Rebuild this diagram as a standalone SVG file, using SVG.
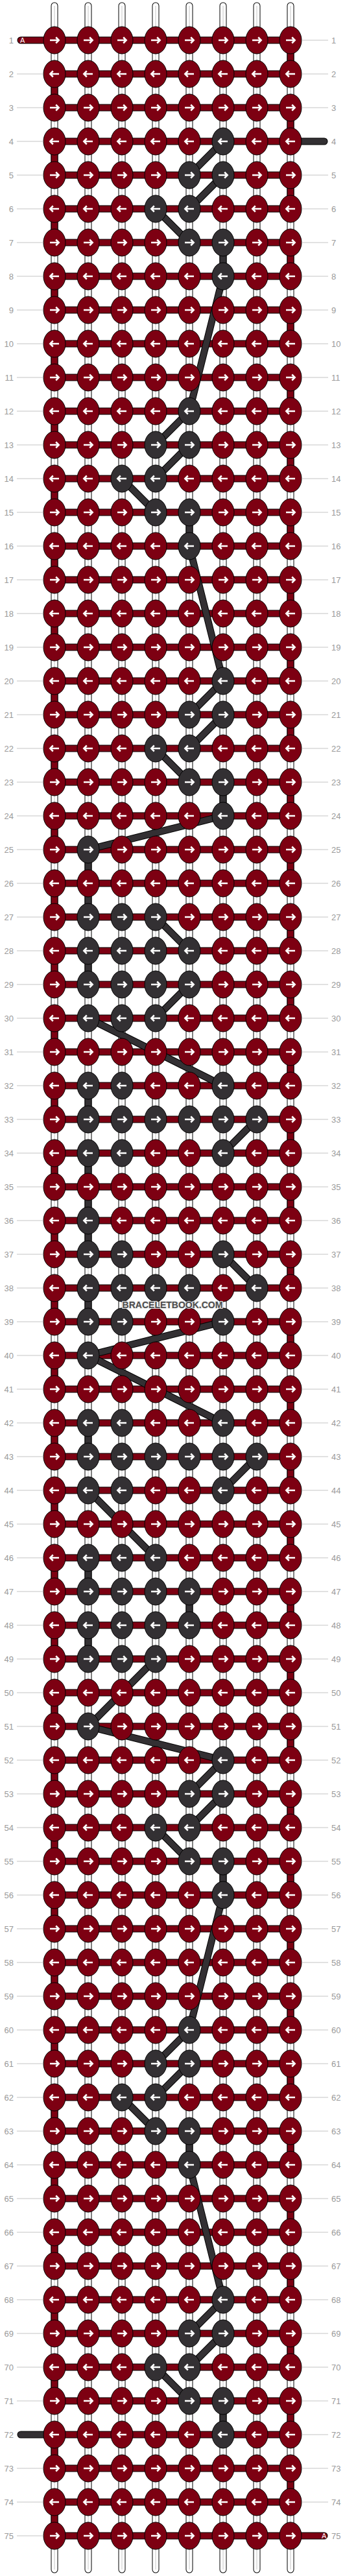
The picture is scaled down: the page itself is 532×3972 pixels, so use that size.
<svg xmlns="http://www.w3.org/2000/svg" xmlns:xlink="http://www.w3.org/1999/xlink" width="532" height="3972" viewBox="0 0 532 3972">
<style>
.lab{font-family:"Liberation Sans",Arial,sans-serif;font-size:13px;fill:#9a9a9a}
.labr{text-anchor:start}
.labl{text-anchor:end}
.arr{fill:none;stroke:#fff;stroke-width:2.5;stroke-linejoin:miter}
.kr{fill:#7d0012;stroke:#000;stroke-width:1}
.kd{fill:#333033;stroke:#000;stroke-width:1}
.o12{fill:none;stroke:#000;stroke-width:11}
.rd{fill:none;stroke:#7d0012;stroke-width:9}
.dk{fill:none;stroke:#333033;stroke-width:9}
.wt{fill:none;stroke:#fff;stroke-width:9}
.cap{stroke-linecap:round}
.core{fill:none;stroke:#c6c6c6;stroke-width:1}
.tick{fill:none;stroke:#c4c4c4;stroke-width:1}
.endt{font-family:"Liberation Sans",Arial,sans-serif;font-size:11px;fill:#fff}
.wm{font-family:"Liberation Sans",Arial,sans-serif;font-size:14px;font-weight:bold;fill:#4d4d4d;stroke:#e8e8e8;stroke-width:2;paint-order:stroke;text-anchor:middle}
</style>
<defs>
<path id="ar" d="M-7,0H6M2.2,-4.5L6.7,0L2.2,4.5" class="arr"/>
<path id="al" d="M7,0H-6M-2.2,-4.5L-6.7,0L-2.2,4.5" class="arr"/>
<g id="a"><ellipse rx="17" ry="21" class="kr"/><use xlink:href="#ar" href="#ar"/></g>
<g id="b"><ellipse rx="17" ry="21" class="kr"/><use xlink:href="#al" href="#al"/></g>
<g id="c"><ellipse rx="17" ry="21" class="kd"/><use xlink:href="#ar" href="#ar"/></g>
<g id="d"><ellipse rx="17" ry="21" class="kd"/><use xlink:href="#al" href="#al"/></g>
<path id="vstr" d="M84,9V3962M136,9V3962M188,9V3962M240,9V3962M292,9V3962M344,9V3962M396,9V3962M448,9V3962"/>
<path id="hbar" d="M32,62H448M84,114H448M84,166H448M84,218H448M84,270H448M84,322H448M84,374H448M84,426H448M84,478H448M84,530H448M84,582H448M84,634H448M84,686H448M84,738H448M84,790H448M84,842H448M84,894H448M84,946H448M84,998H448M84,1050H448M84,1102H448M84,1154H448M84,1206H448M84,1258H448M84,1310H448M84,1362H448M84,1414H448M84,1466H448M84,1518H448M84,1570H448M84,1622H448M84,1674H448M84,1726H448M84,1778H448M84,1830H448M84,1882H448M84,1934H448M84,1986H448M84,2038H448M84,2090H448M84,2142H448M84,2194H448M84,2246H448M84,2298H448M84,2350H448M84,2402H448M84,2454H448M84,2506H448M84,2558H448M84,2610H448M84,2662H448M84,2714H448M84,2766H448M84,2818H448M84,2870H448M84,2922H448M84,2974H448M84,3026H448M84,3078H448M84,3130H448M84,3182H448M84,3234H448M84,3286H448M84,3338H448M84,3390H448M84,3442H448M84,3494H448M84,3546H448M84,3598H448M84,3650H448M84,3702H448M84,3754H448M84,3806H448M84,3858H448M84,3910H500"/>
<path id="dbar" d="M448,218H500M32,3754H84"/>
<path id="redge" d="M448,62V3858M84,114V3910"/>
<path id="dvert" d="M344,374V426M344,1206V1258M344,2870V2922M344,3702V3754M292,790V842M292,2454V2506M292,3286V3338M136,1310V1414M136,1466V1518M136,1674V1726M136,1778V1934M136,1986V2038M136,2194V2246M136,2402V2454M136,2506V2558"/>
<path id="diag" d="M344,218L292,270M344,270L292,322M240,322L292,374M344,426L292,634M292,634L240,686M292,686L240,738M188,738L240,790M292,842L344,1050M344,1050L292,1102M344,1102L292,1154M240,1154L292,1206M344,1258L136,1310M240,1414L292,1466M292,1518L240,1570M136,1570L344,1674M396,1726L344,1778M344,1934L396,1986M344,2038L136,2090M136,2090L344,2194M396,2246L344,2298M136,2298L240,2402M240,2558L136,2662M136,2662L344,2714M344,2714L292,2766M344,2766L292,2818M240,2818L292,2870M344,2922L292,3130M292,3130L240,3182M292,3182L240,3234M188,3234L240,3286M292,3338L344,3546M344,3546L292,3598M344,3598L292,3650M240,3650L292,3702"/>
</defs>
<rect width="532" height="3972" fill="#fff"/>
<g id="strings">
<use xlink:href="#vstr" href="#vstr" class="o12 cap"/>
<use xlink:href="#vstr" href="#vstr" class="wt cap"/>
<use xlink:href="#vstr" href="#vstr" class="core"/>
<use xlink:href="#redge" href="#redge" class="o12" stroke-dasharray="52 52"/>
<use xlink:href="#redge" href="#redge" class="rd" stroke-dasharray="52 52"/>
<use xlink:href="#dvert" href="#dvert" class="o12"/>
<use xlink:href="#dvert" href="#dvert" class="dk"/>
<use xlink:href="#hbar" href="#hbar" class="o12 cap"/>
<use xlink:href="#hbar" href="#hbar" class="rd cap"/>
<use xlink:href="#dbar" href="#dbar" class="o12 cap"/>
<use xlink:href="#dbar" href="#dbar" class="dk cap"/>
</g>
<g id="connectors">
<use xlink:href="#diag" href="#diag" class="o12"/>
<use xlink:href="#diag" href="#diag" class="dk"/>
</g>
<g id="knots">
<g id="row1" transform="translate(0,62)"><use id="k1-1" href="#a" x="84"/><use id="k1-2" href="#a" x="136"/><use id="k1-3" href="#a" x="188"/><use id="k1-4" href="#a" x="240"/><use id="k1-5" href="#a" x="292"/><use id="k1-6" href="#a" x="344"/><use id="k1-7" href="#a" x="396"/><use id="k1-8" href="#a" x="448"/></g>
<g id="row2" transform="translate(0,114)"><use id="k2-1" href="#b" x="84"/><use id="k2-2" href="#b" x="136"/><use id="k2-3" href="#b" x="188"/><use id="k2-4" href="#b" x="240"/><use id="k2-5" href="#b" x="292"/><use id="k2-6" href="#b" x="344"/><use id="k2-7" href="#b" x="396"/><use id="k2-8" href="#b" x="448"/></g>
<g id="row3" transform="translate(0,166)"><use id="k3-1" href="#a" x="84"/><use id="k3-2" href="#a" x="136"/><use id="k3-3" href="#a" x="188"/><use id="k3-4" href="#a" x="240"/><use id="k3-5" href="#a" x="292"/><use id="k3-6" href="#a" x="344"/><use id="k3-7" href="#a" x="396"/><use id="k3-8" href="#a" x="448"/></g>
<g id="row4" transform="translate(0,218)"><use id="k4-1" href="#b" x="84"/><use id="k4-2" href="#b" x="136"/><use id="k4-3" href="#b" x="188"/><use id="k4-4" href="#b" x="240"/><use id="k4-5" href="#b" x="292"/><use id="k4-6" href="#d" x="344"/><use id="k4-7" href="#b" x="396"/><use id="k4-8" href="#b" x="448"/></g>
<g id="row5" transform="translate(0,270)"><use id="k5-1" href="#a" x="84"/><use id="k5-2" href="#a" x="136"/><use id="k5-3" href="#a" x="188"/><use id="k5-4" href="#a" x="240"/><use id="k5-5" href="#c" x="292"/><use id="k5-6" href="#c" x="344"/><use id="k5-7" href="#a" x="396"/><use id="k5-8" href="#a" x="448"/></g>
<g id="row6" transform="translate(0,322)"><use id="k6-1" href="#b" x="84"/><use id="k6-2" href="#b" x="136"/><use id="k6-3" href="#b" x="188"/><use id="k6-4" href="#d" x="240"/><use id="k6-5" href="#d" x="292"/><use id="k6-6" href="#b" x="344"/><use id="k6-7" href="#b" x="396"/><use id="k6-8" href="#b" x="448"/></g>
<g id="row7" transform="translate(0,374)"><use id="k7-1" href="#a" x="84"/><use id="k7-2" href="#a" x="136"/><use id="k7-3" href="#a" x="188"/><use id="k7-4" href="#a" x="240"/><use id="k7-5" href="#c" x="292"/><use id="k7-6" href="#c" x="344"/><use id="k7-7" href="#a" x="396"/><use id="k7-8" href="#a" x="448"/></g>
<g id="row8" transform="translate(0,426)"><use id="k8-1" href="#b" x="84"/><use id="k8-2" href="#b" x="136"/><use id="k8-3" href="#b" x="188"/><use id="k8-4" href="#b" x="240"/><use id="k8-5" href="#b" x="292"/><use id="k8-6" href="#d" x="344"/><use id="k8-7" href="#b" x="396"/><use id="k8-8" href="#b" x="448"/></g>
<g id="row9" transform="translate(0,478)"><use id="k9-1" href="#a" x="84"/><use id="k9-2" href="#a" x="136"/><use id="k9-3" href="#a" x="188"/><use id="k9-4" href="#a" x="240"/><use id="k9-5" href="#a" x="292"/><use id="k9-6" href="#a" x="344"/><use id="k9-7" href="#a" x="396"/><use id="k9-8" href="#a" x="448"/></g>
<g id="row10" transform="translate(0,530)"><use id="k10-1" href="#b" x="84"/><use id="k10-2" href="#b" x="136"/><use id="k10-3" href="#b" x="188"/><use id="k10-4" href="#b" x="240"/><use id="k10-5" href="#b" x="292"/><use id="k10-6" href="#b" x="344"/><use id="k10-7" href="#b" x="396"/><use id="k10-8" href="#b" x="448"/></g>
<g id="row11" transform="translate(0,582)"><use id="k11-1" href="#a" x="84"/><use id="k11-2" href="#a" x="136"/><use id="k11-3" href="#a" x="188"/><use id="k11-4" href="#a" x="240"/><use id="k11-5" href="#a" x="292"/><use id="k11-6" href="#a" x="344"/><use id="k11-7" href="#a" x="396"/><use id="k11-8" href="#a" x="448"/></g>
<g id="row12" transform="translate(0,634)"><use id="k12-1" href="#b" x="84"/><use id="k12-2" href="#b" x="136"/><use id="k12-3" href="#b" x="188"/><use id="k12-4" href="#b" x="240"/><use id="k12-5" href="#d" x="292"/><use id="k12-6" href="#b" x="344"/><use id="k12-7" href="#b" x="396"/><use id="k12-8" href="#b" x="448"/></g>
<g id="row13" transform="translate(0,686)"><use id="k13-1" href="#a" x="84"/><use id="k13-2" href="#a" x="136"/><use id="k13-3" href="#a" x="188"/><use id="k13-4" href="#c" x="240"/><use id="k13-5" href="#c" x="292"/><use id="k13-6" href="#a" x="344"/><use id="k13-7" href="#a" x="396"/><use id="k13-8" href="#a" x="448"/></g>
<g id="row14" transform="translate(0,738)"><use id="k14-1" href="#b" x="84"/><use id="k14-2" href="#b" x="136"/><use id="k14-3" href="#d" x="188"/><use id="k14-4" href="#d" x="240"/><use id="k14-5" href="#b" x="292"/><use id="k14-6" href="#b" x="344"/><use id="k14-7" href="#b" x="396"/><use id="k14-8" href="#b" x="448"/></g>
<g id="row15" transform="translate(0,790)"><use id="k15-1" href="#a" x="84"/><use id="k15-2" href="#a" x="136"/><use id="k15-3" href="#a" x="188"/><use id="k15-4" href="#c" x="240"/><use id="k15-5" href="#c" x="292"/><use id="k15-6" href="#a" x="344"/><use id="k15-7" href="#a" x="396"/><use id="k15-8" href="#a" x="448"/></g>
<g id="row16" transform="translate(0,842)"><use id="k16-1" href="#b" x="84"/><use id="k16-2" href="#b" x="136"/><use id="k16-3" href="#b" x="188"/><use id="k16-4" href="#b" x="240"/><use id="k16-5" href="#d" x="292"/><use id="k16-6" href="#b" x="344"/><use id="k16-7" href="#b" x="396"/><use id="k16-8" href="#b" x="448"/></g>
<g id="row17" transform="translate(0,894)"><use id="k17-1" href="#a" x="84"/><use id="k17-2" href="#a" x="136"/><use id="k17-3" href="#a" x="188"/><use id="k17-4" href="#a" x="240"/><use id="k17-5" href="#a" x="292"/><use id="k17-6" href="#a" x="344"/><use id="k17-7" href="#a" x="396"/><use id="k17-8" href="#a" x="448"/></g>
<g id="row18" transform="translate(0,946)"><use id="k18-1" href="#b" x="84"/><use id="k18-2" href="#b" x="136"/><use id="k18-3" href="#b" x="188"/><use id="k18-4" href="#b" x="240"/><use id="k18-5" href="#b" x="292"/><use id="k18-6" href="#b" x="344"/><use id="k18-7" href="#b" x="396"/><use id="k18-8" href="#b" x="448"/></g>
<g id="row19" transform="translate(0,998)"><use id="k19-1" href="#a" x="84"/><use id="k19-2" href="#a" x="136"/><use id="k19-3" href="#a" x="188"/><use id="k19-4" href="#a" x="240"/><use id="k19-5" href="#a" x="292"/><use id="k19-6" href="#a" x="344"/><use id="k19-7" href="#a" x="396"/><use id="k19-8" href="#a" x="448"/></g>
<g id="row20" transform="translate(0,1050)"><use id="k20-1" href="#b" x="84"/><use id="k20-2" href="#b" x="136"/><use id="k20-3" href="#b" x="188"/><use id="k20-4" href="#b" x="240"/><use id="k20-5" href="#b" x="292"/><use id="k20-6" href="#d" x="344"/><use id="k20-7" href="#b" x="396"/><use id="k20-8" href="#b" x="448"/></g>
<g id="row21" transform="translate(0,1102)"><use id="k21-1" href="#a" x="84"/><use id="k21-2" href="#a" x="136"/><use id="k21-3" href="#a" x="188"/><use id="k21-4" href="#a" x="240"/><use id="k21-5" href="#c" x="292"/><use id="k21-6" href="#c" x="344"/><use id="k21-7" href="#a" x="396"/><use id="k21-8" href="#a" x="448"/></g>
<g id="row22" transform="translate(0,1154)"><use id="k22-1" href="#b" x="84"/><use id="k22-2" href="#b" x="136"/><use id="k22-3" href="#b" x="188"/><use id="k22-4" href="#d" x="240"/><use id="k22-5" href="#d" x="292"/><use id="k22-6" href="#b" x="344"/><use id="k22-7" href="#b" x="396"/><use id="k22-8" href="#b" x="448"/></g>
<g id="row23" transform="translate(0,1206)"><use id="k23-1" href="#a" x="84"/><use id="k23-2" href="#a" x="136"/><use id="k23-3" href="#a" x="188"/><use id="k23-4" href="#a" x="240"/><use id="k23-5" href="#c" x="292"/><use id="k23-6" href="#c" x="344"/><use id="k23-7" href="#a" x="396"/><use id="k23-8" href="#a" x="448"/></g>
<g id="row24" transform="translate(0,1258)"><use id="k24-1" href="#b" x="84"/><use id="k24-2" href="#b" x="136"/><use id="k24-3" href="#b" x="188"/><use id="k24-4" href="#b" x="240"/><use id="k24-5" href="#b" x="292"/><use id="k24-6" href="#d" x="344"/><use id="k24-7" href="#b" x="396"/><use id="k24-8" href="#b" x="448"/></g>
<g id="row25" transform="translate(0,1310)"><use id="k25-1" href="#a" x="84"/><use id="k25-2" href="#c" x="136"/><use id="k25-3" href="#a" x="188"/><use id="k25-4" href="#a" x="240"/><use id="k25-5" href="#a" x="292"/><use id="k25-6" href="#a" x="344"/><use id="k25-7" href="#a" x="396"/><use id="k25-8" href="#a" x="448"/></g>
<g id="row26" transform="translate(0,1362)"><use id="k26-1" href="#b" x="84"/><use id="k26-2" href="#b" x="136"/><use id="k26-3" href="#b" x="188"/><use id="k26-4" href="#b" x="240"/><use id="k26-5" href="#b" x="292"/><use id="k26-6" href="#b" x="344"/><use id="k26-7" href="#b" x="396"/><use id="k26-8" href="#b" x="448"/></g>
<g id="row27" transform="translate(0,1414)"><use id="k27-1" href="#a" x="84"/><use id="k27-2" href="#c" x="136"/><use id="k27-3" href="#c" x="188"/><use id="k27-4" href="#c" x="240"/><use id="k27-5" href="#a" x="292"/><use id="k27-6" href="#a" x="344"/><use id="k27-7" href="#a" x="396"/><use id="k27-8" href="#a" x="448"/></g>
<g id="row28" transform="translate(0,1466)"><use id="k28-1" href="#b" x="84"/><use id="k28-2" href="#d" x="136"/><use id="k28-3" href="#d" x="188"/><use id="k28-4" href="#d" x="240"/><use id="k28-5" href="#d" x="292"/><use id="k28-6" href="#b" x="344"/><use id="k28-7" href="#b" x="396"/><use id="k28-8" href="#b" x="448"/></g>
<g id="row29" transform="translate(0,1518)"><use id="k29-1" href="#a" x="84"/><use id="k29-2" href="#c" x="136"/><use id="k29-3" href="#c" x="188"/><use id="k29-4" href="#c" x="240"/><use id="k29-5" href="#c" x="292"/><use id="k29-6" href="#a" x="344"/><use id="k29-7" href="#a" x="396"/><use id="k29-8" href="#a" x="448"/></g>
<g id="row30" transform="translate(0,1570)"><use id="k30-1" href="#b" x="84"/><use id="k30-2" href="#d" x="136"/><use id="k30-3" href="#d" x="188"/><use id="k30-4" href="#d" x="240"/><use id="k30-5" href="#b" x="292"/><use id="k30-6" href="#b" x="344"/><use id="k30-7" href="#b" x="396"/><use id="k30-8" href="#b" x="448"/></g>
<g id="row31" transform="translate(0,1622)"><use id="k31-1" href="#a" x="84"/><use id="k31-2" href="#a" x="136"/><use id="k31-3" href="#a" x="188"/><use id="k31-4" href="#a" x="240"/><use id="k31-5" href="#a" x="292"/><use id="k31-6" href="#a" x="344"/><use id="k31-7" href="#a" x="396"/><use id="k31-8" href="#a" x="448"/></g>
<g id="row32" transform="translate(0,1674)"><use id="k32-1" href="#b" x="84"/><use id="k32-2" href="#d" x="136"/><use id="k32-3" href="#d" x="188"/><use id="k32-4" href="#b" x="240"/><use id="k32-5" href="#b" x="292"/><use id="k32-6" href="#d" x="344"/><use id="k32-7" href="#b" x="396"/><use id="k32-8" href="#b" x="448"/></g>
<g id="row33" transform="translate(0,1726)"><use id="k33-1" href="#a" x="84"/><use id="k33-2" href="#c" x="136"/><use id="k33-3" href="#c" x="188"/><use id="k33-4" href="#c" x="240"/><use id="k33-5" href="#c" x="292"/><use id="k33-6" href="#c" x="344"/><use id="k33-7" href="#c" x="396"/><use id="k33-8" href="#a" x="448"/></g>
<g id="row34" transform="translate(0,1778)"><use id="k34-1" href="#b" x="84"/><use id="k34-2" href="#d" x="136"/><use id="k34-3" href="#d" x="188"/><use id="k34-4" href="#b" x="240"/><use id="k34-5" href="#b" x="292"/><use id="k34-6" href="#d" x="344"/><use id="k34-7" href="#b" x="396"/><use id="k34-8" href="#b" x="448"/></g>
<g id="row35" transform="translate(0,1830)"><use id="k35-1" href="#a" x="84"/><use id="k35-2" href="#a" x="136"/><use id="k35-3" href="#a" x="188"/><use id="k35-4" href="#a" x="240"/><use id="k35-5" href="#a" x="292"/><use id="k35-6" href="#a" x="344"/><use id="k35-7" href="#a" x="396"/><use id="k35-8" href="#a" x="448"/></g>
<g id="row36" transform="translate(0,1882)"><use id="k36-1" href="#b" x="84"/><use id="k36-2" href="#d" x="136"/><use id="k36-3" href="#b" x="188"/><use id="k36-4" href="#b" x="240"/><use id="k36-5" href="#b" x="292"/><use id="k36-6" href="#b" x="344"/><use id="k36-7" href="#b" x="396"/><use id="k36-8" href="#b" x="448"/></g>
<g id="row37" transform="translate(0,1934)"><use id="k37-1" href="#a" x="84"/><use id="k37-2" href="#c" x="136"/><use id="k37-3" href="#c" x="188"/><use id="k37-4" href="#a" x="240"/><use id="k37-5" href="#a" x="292"/><use id="k37-6" href="#c" x="344"/><use id="k37-7" href="#a" x="396"/><use id="k37-8" href="#a" x="448"/></g>
<g id="row38" transform="translate(0,1986)"><use id="k38-1" href="#b" x="84"/><use id="k38-2" href="#d" x="136"/><use id="k38-3" href="#d" x="188"/><use id="k38-4" href="#d" x="240"/><use id="k38-5" href="#d" x="292"/><use id="k38-6" href="#b" x="344"/><use id="k38-7" href="#d" x="396"/><use id="k38-8" href="#b" x="448"/></g>
<g id="row39" transform="translate(0,2038)"><use id="k39-1" href="#a" x="84"/><use id="k39-2" href="#c" x="136"/><use id="k39-3" href="#c" x="188"/><use id="k39-4" href="#a" x="240"/><use id="k39-5" href="#a" x="292"/><use id="k39-6" href="#c" x="344"/><use id="k39-7" href="#a" x="396"/><use id="k39-8" href="#a" x="448"/></g>
<g id="row40" transform="translate(0,2090)"><use id="k40-1" href="#b" x="84"/><use id="k40-2" href="#d" x="136"/><use id="k40-3" href="#b" x="188"/><use id="k40-4" href="#b" x="240"/><use id="k40-5" href="#b" x="292"/><use id="k40-6" href="#b" x="344"/><use id="k40-7" href="#b" x="396"/><use id="k40-8" href="#b" x="448"/></g>
<g id="row41" transform="translate(0,2142)"><use id="k41-1" href="#a" x="84"/><use id="k41-2" href="#a" x="136"/><use id="k41-3" href="#a" x="188"/><use id="k41-4" href="#a" x="240"/><use id="k41-5" href="#a" x="292"/><use id="k41-6" href="#a" x="344"/><use id="k41-7" href="#a" x="396"/><use id="k41-8" href="#a" x="448"/></g>
<g id="row42" transform="translate(0,2194)"><use id="k42-1" href="#b" x="84"/><use id="k42-2" href="#d" x="136"/><use id="k42-3" href="#d" x="188"/><use id="k42-4" href="#b" x="240"/><use id="k42-5" href="#b" x="292"/><use id="k42-6" href="#d" x="344"/><use id="k42-7" href="#b" x="396"/><use id="k42-8" href="#b" x="448"/></g>
<g id="row43" transform="translate(0,2246)"><use id="k43-1" href="#a" x="84"/><use id="k43-2" href="#c" x="136"/><use id="k43-3" href="#c" x="188"/><use id="k43-4" href="#c" x="240"/><use id="k43-5" href="#c" x="292"/><use id="k43-6" href="#c" x="344"/><use id="k43-7" href="#c" x="396"/><use id="k43-8" href="#a" x="448"/></g>
<g id="row44" transform="translate(0,2298)"><use id="k44-1" href="#b" x="84"/><use id="k44-2" href="#d" x="136"/><use id="k44-3" href="#d" x="188"/><use id="k44-4" href="#b" x="240"/><use id="k44-5" href="#b" x="292"/><use id="k44-6" href="#d" x="344"/><use id="k44-7" href="#b" x="396"/><use id="k44-8" href="#b" x="448"/></g>
<g id="row45" transform="translate(0,2350)"><use id="k45-1" href="#a" x="84"/><use id="k45-2" href="#a" x="136"/><use id="k45-3" href="#a" x="188"/><use id="k45-4" href="#a" x="240"/><use id="k45-5" href="#a" x="292"/><use id="k45-6" href="#a" x="344"/><use id="k45-7" href="#a" x="396"/><use id="k45-8" href="#a" x="448"/></g>
<g id="row46" transform="translate(0,2402)"><use id="k46-1" href="#b" x="84"/><use id="k46-2" href="#d" x="136"/><use id="k46-3" href="#d" x="188"/><use id="k46-4" href="#d" x="240"/><use id="k46-5" href="#b" x="292"/><use id="k46-6" href="#b" x="344"/><use id="k46-7" href="#b" x="396"/><use id="k46-8" href="#b" x="448"/></g>
<g id="row47" transform="translate(0,2454)"><use id="k47-1" href="#a" x="84"/><use id="k47-2" href="#c" x="136"/><use id="k47-3" href="#c" x="188"/><use id="k47-4" href="#c" x="240"/><use id="k47-5" href="#c" x="292"/><use id="k47-6" href="#a" x="344"/><use id="k47-7" href="#a" x="396"/><use id="k47-8" href="#a" x="448"/></g>
<g id="row48" transform="translate(0,2506)"><use id="k48-1" href="#b" x="84"/><use id="k48-2" href="#d" x="136"/><use id="k48-3" href="#d" x="188"/><use id="k48-4" href="#d" x="240"/><use id="k48-5" href="#d" x="292"/><use id="k48-6" href="#b" x="344"/><use id="k48-7" href="#b" x="396"/><use id="k48-8" href="#b" x="448"/></g>
<g id="row49" transform="translate(0,2558)"><use id="k49-1" href="#a" x="84"/><use id="k49-2" href="#c" x="136"/><use id="k49-3" href="#c" x="188"/><use id="k49-4" href="#c" x="240"/><use id="k49-5" href="#a" x="292"/><use id="k49-6" href="#a" x="344"/><use id="k49-7" href="#a" x="396"/><use id="k49-8" href="#a" x="448"/></g>
<g id="row50" transform="translate(0,2610)"><use id="k50-1" href="#b" x="84"/><use id="k50-2" href="#b" x="136"/><use id="k50-3" href="#b" x="188"/><use id="k50-4" href="#b" x="240"/><use id="k50-5" href="#b" x="292"/><use id="k50-6" href="#b" x="344"/><use id="k50-7" href="#b" x="396"/><use id="k50-8" href="#b" x="448"/></g>
<g id="row51" transform="translate(0,2662)"><use id="k51-1" href="#a" x="84"/><use id="k51-2" href="#c" x="136"/><use id="k51-3" href="#a" x="188"/><use id="k51-4" href="#a" x="240"/><use id="k51-5" href="#a" x="292"/><use id="k51-6" href="#a" x="344"/><use id="k51-7" href="#a" x="396"/><use id="k51-8" href="#a" x="448"/></g>
<g id="row52" transform="translate(0,2714)"><use id="k52-1" href="#b" x="84"/><use id="k52-2" href="#b" x="136"/><use id="k52-3" href="#b" x="188"/><use id="k52-4" href="#b" x="240"/><use id="k52-5" href="#b" x="292"/><use id="k52-6" href="#d" x="344"/><use id="k52-7" href="#b" x="396"/><use id="k52-8" href="#b" x="448"/></g>
<g id="row53" transform="translate(0,2766)"><use id="k53-1" href="#a" x="84"/><use id="k53-2" href="#a" x="136"/><use id="k53-3" href="#a" x="188"/><use id="k53-4" href="#a" x="240"/><use id="k53-5" href="#c" x="292"/><use id="k53-6" href="#c" x="344"/><use id="k53-7" href="#a" x="396"/><use id="k53-8" href="#a" x="448"/></g>
<g id="row54" transform="translate(0,2818)"><use id="k54-1" href="#b" x="84"/><use id="k54-2" href="#b" x="136"/><use id="k54-3" href="#b" x="188"/><use id="k54-4" href="#d" x="240"/><use id="k54-5" href="#d" x="292"/><use id="k54-6" href="#b" x="344"/><use id="k54-7" href="#b" x="396"/><use id="k54-8" href="#b" x="448"/></g>
<g id="row55" transform="translate(0,2870)"><use id="k55-1" href="#a" x="84"/><use id="k55-2" href="#a" x="136"/><use id="k55-3" href="#a" x="188"/><use id="k55-4" href="#a" x="240"/><use id="k55-5" href="#c" x="292"/><use id="k55-6" href="#c" x="344"/><use id="k55-7" href="#a" x="396"/><use id="k55-8" href="#a" x="448"/></g>
<g id="row56" transform="translate(0,2922)"><use id="k56-1" href="#b" x="84"/><use id="k56-2" href="#b" x="136"/><use id="k56-3" href="#b" x="188"/><use id="k56-4" href="#b" x="240"/><use id="k56-5" href="#b" x="292"/><use id="k56-6" href="#d" x="344"/><use id="k56-7" href="#b" x="396"/><use id="k56-8" href="#b" x="448"/></g>
<g id="row57" transform="translate(0,2974)"><use id="k57-1" href="#a" x="84"/><use id="k57-2" href="#a" x="136"/><use id="k57-3" href="#a" x="188"/><use id="k57-4" href="#a" x="240"/><use id="k57-5" href="#a" x="292"/><use id="k57-6" href="#a" x="344"/><use id="k57-7" href="#a" x="396"/><use id="k57-8" href="#a" x="448"/></g>
<g id="row58" transform="translate(0,3026)"><use id="k58-1" href="#b" x="84"/><use id="k58-2" href="#b" x="136"/><use id="k58-3" href="#b" x="188"/><use id="k58-4" href="#b" x="240"/><use id="k58-5" href="#b" x="292"/><use id="k58-6" href="#b" x="344"/><use id="k58-7" href="#b" x="396"/><use id="k58-8" href="#b" x="448"/></g>
<g id="row59" transform="translate(0,3078)"><use id="k59-1" href="#a" x="84"/><use id="k59-2" href="#a" x="136"/><use id="k59-3" href="#a" x="188"/><use id="k59-4" href="#a" x="240"/><use id="k59-5" href="#a" x="292"/><use id="k59-6" href="#a" x="344"/><use id="k59-7" href="#a" x="396"/><use id="k59-8" href="#a" x="448"/></g>
<g id="row60" transform="translate(0,3130)"><use id="k60-1" href="#b" x="84"/><use id="k60-2" href="#b" x="136"/><use id="k60-3" href="#b" x="188"/><use id="k60-4" href="#b" x="240"/><use id="k60-5" href="#d" x="292"/><use id="k60-6" href="#b" x="344"/><use id="k60-7" href="#b" x="396"/><use id="k60-8" href="#b" x="448"/></g>
<g id="row61" transform="translate(0,3182)"><use id="k61-1" href="#a" x="84"/><use id="k61-2" href="#a" x="136"/><use id="k61-3" href="#a" x="188"/><use id="k61-4" href="#c" x="240"/><use id="k61-5" href="#c" x="292"/><use id="k61-6" href="#a" x="344"/><use id="k61-7" href="#a" x="396"/><use id="k61-8" href="#a" x="448"/></g>
<g id="row62" transform="translate(0,3234)"><use id="k62-1" href="#b" x="84"/><use id="k62-2" href="#b" x="136"/><use id="k62-3" href="#d" x="188"/><use id="k62-4" href="#d" x="240"/><use id="k62-5" href="#b" x="292"/><use id="k62-6" href="#b" x="344"/><use id="k62-7" href="#b" x="396"/><use id="k62-8" href="#b" x="448"/></g>
<g id="row63" transform="translate(0,3286)"><use id="k63-1" href="#a" x="84"/><use id="k63-2" href="#a" x="136"/><use id="k63-3" href="#a" x="188"/><use id="k63-4" href="#c" x="240"/><use id="k63-5" href="#c" x="292"/><use id="k63-6" href="#a" x="344"/><use id="k63-7" href="#a" x="396"/><use id="k63-8" href="#a" x="448"/></g>
<g id="row64" transform="translate(0,3338)"><use id="k64-1" href="#b" x="84"/><use id="k64-2" href="#b" x="136"/><use id="k64-3" href="#b" x="188"/><use id="k64-4" href="#b" x="240"/><use id="k64-5" href="#d" x="292"/><use id="k64-6" href="#b" x="344"/><use id="k64-7" href="#b" x="396"/><use id="k64-8" href="#b" x="448"/></g>
<g id="row65" transform="translate(0,3390)"><use id="k65-1" href="#a" x="84"/><use id="k65-2" href="#a" x="136"/><use id="k65-3" href="#a" x="188"/><use id="k65-4" href="#a" x="240"/><use id="k65-5" href="#a" x="292"/><use id="k65-6" href="#a" x="344"/><use id="k65-7" href="#a" x="396"/><use id="k65-8" href="#a" x="448"/></g>
<g id="row66" transform="translate(0,3442)"><use id="k66-1" href="#b" x="84"/><use id="k66-2" href="#b" x="136"/><use id="k66-3" href="#b" x="188"/><use id="k66-4" href="#b" x="240"/><use id="k66-5" href="#b" x="292"/><use id="k66-6" href="#b" x="344"/><use id="k66-7" href="#b" x="396"/><use id="k66-8" href="#b" x="448"/></g>
<g id="row67" transform="translate(0,3494)"><use id="k67-1" href="#a" x="84"/><use id="k67-2" href="#a" x="136"/><use id="k67-3" href="#a" x="188"/><use id="k67-4" href="#a" x="240"/><use id="k67-5" href="#a" x="292"/><use id="k67-6" href="#a" x="344"/><use id="k67-7" href="#a" x="396"/><use id="k67-8" href="#a" x="448"/></g>
<g id="row68" transform="translate(0,3546)"><use id="k68-1" href="#b" x="84"/><use id="k68-2" href="#b" x="136"/><use id="k68-3" href="#b" x="188"/><use id="k68-4" href="#b" x="240"/><use id="k68-5" href="#b" x="292"/><use id="k68-6" href="#d" x="344"/><use id="k68-7" href="#b" x="396"/><use id="k68-8" href="#b" x="448"/></g>
<g id="row69" transform="translate(0,3598)"><use id="k69-1" href="#a" x="84"/><use id="k69-2" href="#a" x="136"/><use id="k69-3" href="#a" x="188"/><use id="k69-4" href="#a" x="240"/><use id="k69-5" href="#c" x="292"/><use id="k69-6" href="#c" x="344"/><use id="k69-7" href="#a" x="396"/><use id="k69-8" href="#a" x="448"/></g>
<g id="row70" transform="translate(0,3650)"><use id="k70-1" href="#b" x="84"/><use id="k70-2" href="#b" x="136"/><use id="k70-3" href="#b" x="188"/><use id="k70-4" href="#d" x="240"/><use id="k70-5" href="#d" x="292"/><use id="k70-6" href="#b" x="344"/><use id="k70-7" href="#b" x="396"/><use id="k70-8" href="#b" x="448"/></g>
<g id="row71" transform="translate(0,3702)"><use id="k71-1" href="#a" x="84"/><use id="k71-2" href="#a" x="136"/><use id="k71-3" href="#a" x="188"/><use id="k71-4" href="#a" x="240"/><use id="k71-5" href="#c" x="292"/><use id="k71-6" href="#c" x="344"/><use id="k71-7" href="#a" x="396"/><use id="k71-8" href="#a" x="448"/></g>
<g id="row72" transform="translate(0,3754)"><use id="k72-1" href="#b" x="84"/><use id="k72-2" href="#b" x="136"/><use id="k72-3" href="#b" x="188"/><use id="k72-4" href="#b" x="240"/><use id="k72-5" href="#b" x="292"/><use id="k72-6" href="#d" x="344"/><use id="k72-7" href="#b" x="396"/><use id="k72-8" href="#b" x="448"/></g>
<g id="row73" transform="translate(0,3806)"><use id="k73-1" href="#a" x="84"/><use id="k73-2" href="#a" x="136"/><use id="k73-3" href="#a" x="188"/><use id="k73-4" href="#a" x="240"/><use id="k73-5" href="#a" x="292"/><use id="k73-6" href="#a" x="344"/><use id="k73-7" href="#a" x="396"/><use id="k73-8" href="#a" x="448"/></g>
<g id="row74" transform="translate(0,3858)"><use id="k74-1" href="#b" x="84"/><use id="k74-2" href="#b" x="136"/><use id="k74-3" href="#b" x="188"/><use id="k74-4" href="#b" x="240"/><use id="k74-5" href="#b" x="292"/><use id="k74-6" href="#b" x="344"/><use id="k74-7" href="#b" x="396"/><use id="k74-8" href="#b" x="448"/></g>
<g id="row75" transform="translate(0,3910)"><use id="k75-1" href="#a" x="84"/><use id="k75-2" href="#a" x="136"/><use id="k75-3" href="#a" x="188"/><use id="k75-4" href="#a" x="240"/><use id="k75-5" href="#a" x="292"/><use id="k75-6" href="#a" x="344"/><use id="k75-7" href="#a" x="396"/><use id="k75-8" href="#a" x="448"/></g>
</g>
<g id="ends">
<text class="endt" x="31" y="66">A</text>
<text class="endt" x="496" y="3914">A</text>
</g>
<g id="ticks">
<path class="tick" d="M26,114H67M465,62H506M26,166H67M465,114H506M26,218H67M465,166H506M26,270H67M465,270H506M26,322H67M465,322H506M26,374H67M465,374H506M26,426H67M465,426H506M26,478H67M465,478H506M26,530H67M465,530H506M26,582H67M465,582H506M26,634H67M465,634H506M26,686H67M465,686H506M26,738H67M465,738H506M26,790H67M465,790H506M26,842H67M465,842H506M26,894H67M465,894H506M26,946H67M465,946H506M26,998H67M465,998H506M26,1050H67M465,1050H506M26,1102H67M465,1102H506M26,1154H67M465,1154H506M26,1206H67M465,1206H506M26,1258H67M465,1258H506M26,1310H67M465,1310H506M26,1362H67M465,1362H506M26,1414H67M465,1414H506M26,1466H67M465,1466H506M26,1518H67M465,1518H506M26,1570H67M465,1570H506M26,1622H67M465,1622H506M26,1674H67M465,1674H506M26,1726H67M465,1726H506M26,1778H67M465,1778H506M26,1830H67M465,1830H506M26,1882H67M465,1882H506M26,1934H67M465,1934H506M26,1986H67M465,1986H506M26,2038H67M465,2038H506M26,2090H67M465,2090H506M26,2142H67M465,2142H506M26,2194H67M465,2194H506M26,2246H67M465,2246H506M26,2298H67M465,2298H506M26,2350H67M465,2350H506M26,2402H67M465,2402H506M26,2454H67M465,2454H506M26,2506H67M465,2506H506M26,2558H67M465,2558H506M26,2610H67M465,2610H506M26,2662H67M465,2662H506M26,2714H67M465,2714H506M26,2766H67M465,2766H506M26,2818H67M465,2818H506M26,2870H67M465,2870H506M26,2922H67M465,2922H506M26,2974H67M465,2974H506M26,3026H67M465,3026H506M26,3078H67M465,3078H506M26,3130H67M465,3130H506M26,3182H67M465,3182H506M26,3234H67M465,3234H506M26,3286H67M465,3286H506M26,3338H67M465,3338H506M26,3390H67M465,3390H506M26,3442H67M465,3442H506M26,3494H67M465,3494H506M26,3546H67M465,3546H506M26,3598H67M465,3598H506M26,3650H67M465,3650H506M26,3702H67M465,3702H506M465,3754H506M26,3806H67M465,3806H506M26,3858H67M465,3858H506M26,3910H67"/>
</g>
<g id="labels-left" class="lab labl">
<text x="21" y="66.5">1</text><text x="21" y="118.5">2</text><text x="21" y="170.5">3</text><text x="21" y="222.5">4</text><text x="21" y="274.5">5</text><text x="21" y="326.5">6</text><text x="21" y="378.5">7</text><text x="21" y="430.5">8</text><text x="21" y="482.5">9</text><text x="21" y="534.5">10</text><text x="21" y="586.5">11</text><text x="21" y="638.5">12</text><text x="21" y="690.5">13</text><text x="21" y="742.5">14</text><text x="21" y="794.5">15</text><text x="21" y="846.5">16</text><text x="21" y="898.5">17</text><text x="21" y="950.5">18</text><text x="21" y="1002.5">19</text><text x="21" y="1054.5">20</text><text x="21" y="1106.5">21</text><text x="21" y="1158.5">22</text><text x="21" y="1210.5">23</text><text x="21" y="1262.5">24</text><text x="21" y="1314.5">25</text><text x="21" y="1366.5">26</text><text x="21" y="1418.5">27</text><text x="21" y="1470.5">28</text><text x="21" y="1522.5">29</text><text x="21" y="1574.5">30</text><text x="21" y="1626.5">31</text><text x="21" y="1678.5">32</text><text x="21" y="1730.5">33</text><text x="21" y="1782.5">34</text><text x="21" y="1834.5">35</text><text x="21" y="1886.5">36</text><text x="21" y="1938.5">37</text><text x="21" y="1990.5">38</text><text x="21" y="2042.5">39</text><text x="21" y="2094.5">40</text><text x="21" y="2146.5">41</text><text x="21" y="2198.5">42</text><text x="21" y="2250.5">43</text><text x="21" y="2302.5">44</text><text x="21" y="2354.5">45</text><text x="21" y="2406.5">46</text><text x="21" y="2458.5">47</text><text x="21" y="2510.5">48</text><text x="21" y="2562.5">49</text><text x="21" y="2614.5">50</text><text x="21" y="2666.5">51</text><text x="21" y="2718.5">52</text><text x="21" y="2770.5">53</text><text x="21" y="2822.5">54</text><text x="21" y="2874.5">55</text><text x="21" y="2926.5">56</text><text x="21" y="2978.5">57</text><text x="21" y="3030.5">58</text><text x="21" y="3082.5">59</text><text x="21" y="3134.5">60</text><text x="21" y="3186.5">61</text><text x="21" y="3238.5">62</text><text x="21" y="3290.5">63</text><text x="21" y="3342.5">64</text><text x="21" y="3394.5">65</text><text x="21" y="3446.5">66</text><text x="21" y="3498.5">67</text><text x="21" y="3550.5">68</text><text x="21" y="3602.5">69</text><text x="21" y="3654.5">70</text><text x="21" y="3706.5">71</text><text x="21" y="3758.5">72</text><text x="21" y="3810.5">73</text><text x="21" y="3862.5">74</text><text x="21" y="3914.5">75</text>
</g>
<g id="labels-right" class="lab labr">
<text x="511" y="66.5">1</text><text x="511" y="118.5">2</text><text x="511" y="170.5">3</text><text x="511" y="222.5">4</text><text x="511" y="274.5">5</text><text x="511" y="326.5">6</text><text x="511" y="378.5">7</text><text x="511" y="430.5">8</text><text x="511" y="482.5">9</text><text x="511" y="534.5">10</text><text x="511" y="586.5">11</text><text x="511" y="638.5">12</text><text x="511" y="690.5">13</text><text x="511" y="742.5">14</text><text x="511" y="794.5">15</text><text x="511" y="846.5">16</text><text x="511" y="898.5">17</text><text x="511" y="950.5">18</text><text x="511" y="1002.5">19</text><text x="511" y="1054.5">20</text><text x="511" y="1106.5">21</text><text x="511" y="1158.5">22</text><text x="511" y="1210.5">23</text><text x="511" y="1262.5">24</text><text x="511" y="1314.5">25</text><text x="511" y="1366.5">26</text><text x="511" y="1418.5">27</text><text x="511" y="1470.5">28</text><text x="511" y="1522.5">29</text><text x="511" y="1574.5">30</text><text x="511" y="1626.5">31</text><text x="511" y="1678.5">32</text><text x="511" y="1730.5">33</text><text x="511" y="1782.5">34</text><text x="511" y="1834.5">35</text><text x="511" y="1886.5">36</text><text x="511" y="1938.5">37</text><text x="511" y="1990.5">38</text><text x="511" y="2042.5">39</text><text x="511" y="2094.5">40</text><text x="511" y="2146.5">41</text><text x="511" y="2198.5">42</text><text x="511" y="2250.5">43</text><text x="511" y="2302.5">44</text><text x="511" y="2354.5">45</text><text x="511" y="2406.5">46</text><text x="511" y="2458.5">47</text><text x="511" y="2510.5">48</text><text x="511" y="2562.5">49</text><text x="511" y="2614.5">50</text><text x="511" y="2666.5">51</text><text x="511" y="2718.5">52</text><text x="511" y="2770.5">53</text><text x="511" y="2822.5">54</text><text x="511" y="2874.5">55</text><text x="511" y="2926.5">56</text><text x="511" y="2978.5">57</text><text x="511" y="3030.5">58</text><text x="511" y="3082.5">59</text><text x="511" y="3134.5">60</text><text x="511" y="3186.5">61</text><text x="511" y="3238.5">62</text><text x="511" y="3290.5">63</text><text x="511" y="3342.5">64</text><text x="511" y="3394.5">65</text><text x="511" y="3446.5">66</text><text x="511" y="3498.5">67</text><text x="511" y="3550.5">68</text><text x="511" y="3602.5">69</text><text x="511" y="3654.5">70</text><text x="511" y="3706.5">71</text><text x="511" y="3758.5">72</text><text x="511" y="3810.5">73</text><text x="511" y="3862.5">74</text><text x="511" y="3914.5">75</text>
</g>
<text id="watermark" class="wm" x="266" y="2017">BRACELETBOOK.COM</text>
</svg>
